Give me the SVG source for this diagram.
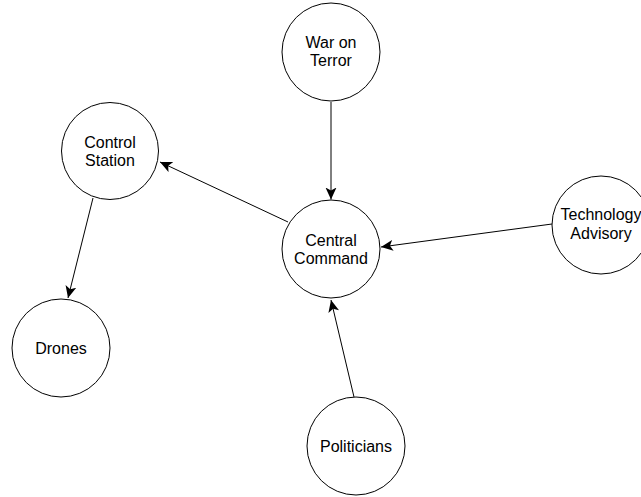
<svg xmlns="http://www.w3.org/2000/svg" width="641" height="497" viewBox="0 0 641 497">
<style>
.n{fill:#fff;stroke:#000;stroke-width:1}
.t{font-family:"Liberation Sans",Arial,sans-serif;font-size:16px;fill:#000;text-anchor:middle}
.e{stroke:#000;stroke-width:1;fill:none;marker-end:url(#arr)}
</style>
<defs>
<marker id="arr" markerUnits="userSpaceOnUse" markerWidth="14" markerHeight="12" viewBox="-12 -6 14 12" refX="0" refY="0" orient="auto">
<path d="M0,0 L-12,-5.5 L-9,0 L-12,5.5 z" fill="#000"/>
</marker>
</defs>
<rect width="641" height="497" fill="#fff"/>
<g id="connectors">
<line class="e" x1="331" y1="102" x2="331" y2="199.5"/>
<line class="e" x1="288" y1="222" x2="160" y2="162"/>
<line class="e" x1="552" y1="224" x2="381" y2="247"/>
<line class="e" x1="93" y1="198" x2="68" y2="298"/>
<line class="e" x1="354" y1="397" x2="331" y2="300"/>
</g>
<g id="war-on-terror">
<circle class="n" cx="331" cy="52" r="49"/>
<text class="t" x="331" y="47.5">War on</text>
<text class="t" x="331" y="66">Terror</text>
</g>
<g id="control-station">
<circle class="n" cx="110" cy="151" r="48.5"/>
<text class="t" x="110" y="147.5">Control</text>
<text class="t" x="110" y="166">Station</text>
</g>
<g id="central-command">
<circle class="n" cx="331" cy="249" r="49"/>
<text class="t" x="331" y="245.5">Central</text>
<text class="t" x="331" y="264">Command</text>
</g>
<g id="technology-advisory">
<circle class="n" cx="601" cy="225" r="49"/>
<text class="t" x="601" y="219.5">Technology</text>
<text class="t" x="601" y="238.5">Advisory</text>
</g>
<g id="drones">
<circle class="n" cx="61" cy="348" r="49"/>
<text class="t" x="61" y="353.5">Drones</text>
</g>
<g id="politicians">
<circle class="n" cx="356" cy="446" r="49"/>
<text class="t" x="356" y="451.5">Politicians</text>
</g>
</svg>
